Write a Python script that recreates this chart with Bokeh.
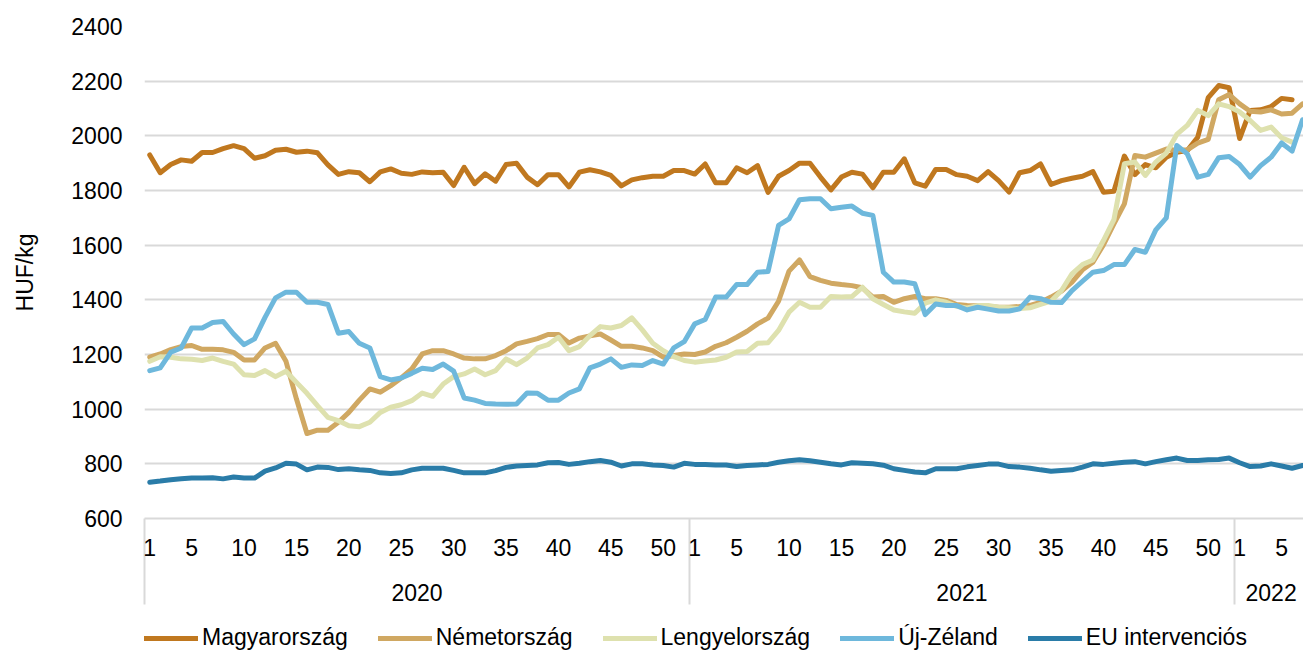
import numpy as np
from bokeh.plotting import figure
from bokeh.layouts import column
from bokeh.models import Range1d, FixedTicker, LinearAxis, Legend, LegendItem
from bokeh.embed import file_html
from bokeh.resources import INLINE

# ---------------- data ----------------
years = ["2020", "2021", "2022"]
weeks_per_year = [52, 52, 7]
week_tick_labels = [1, 5, 10, 15, 20, 25, 30, 35, 40, 45, 50]
y_ticks = [600, 800, 1000, 1200, 1400, 1600, 1800, 2000, 2200, 2400]

series_names = ["Magyarország", "Németország", "Lengyelország", "Új-Zéland", "EU intervenciós"]
series_colors = ["#C0781F", "#D0A862", "#DEE1AE", "#6EB8DC", "#2A7CA8"]

magyarorszag = [
    1930, 1865, 1895, 1912, 1907, 1939, 1939, 1953, 1964, 1953,
    1918, 1927, 1947, 1951, 1940, 1944, 1938, 1894, 1859, 1869,
    1865, 1832, 1868, 1879, 1863, 1859, 1868, 1865, 1867, 1818,
    1885, 1825, 1861, 1834, 1895, 1900, 1849, 1821, 1858, 1858,
    1813, 1867, 1876, 1868, 1855, 1817, 1839, 1847, 1852, 1852,
    1873, 1873,
    1860, 1897, 1828, 1828, 1883, 1865, 1891, 1793, 1852, 1873,
    1900, 1900, 1849, 1802, 1849, 1867, 1860, 1810, 1867, 1867,
    1916, 1828, 1816, 1877, 1877, 1858, 1852, 1836, 1869, 1836,
    1794, 1865, 1873, 1897, 1822, 1836, 1845, 1852, 1869, 1794,
    1797, 1926, 1858, 1895, 1883, 1922, 1940, 1946, 1995, 2140,
    2184, 2176,
    1990, 2093, 2095, 2107, 2137, 2132,
]

nemetorszag = [
    1190, 1202, 1218, 1229, 1233, 1219, 1219, 1217, 1208, 1180,
    1180, 1224, 1241, 1175, 1037, 911, 923, 923, 952, 988,
    1033, 1074, 1062, 1086, 1114, 1147,
    1202, 1214, 1214, 1202, 1187, 1184, 1184, 1196, 1214, 1239,
    1248, 1258, 1273, 1273, 1242, 1260, 1268, 1275, 1253, 1230,
    1230, 1224, 1214, 1190, 1196, 1202,
    1200, 1209, 1230, 1243, 1263, 1285, 1312, 1333, 1395, 1505,
    1546, 1485, 1471, 1461, 1456, 1452, 1444, 1410, 1412, 1391,
    1404, 1412, 1404, 1404, 1398, 1383, 1379,
    1378, 1376, 1373, 1373, 1376,
    1380, 1391, 1410, 1432, 1465, 1510, 1538, 1601, 1678, 1751,
    1928, 1922, 1937, 1952, 1946, 1949, 1973, 1987, 2132, 2151,
    2117, 2090, 2087, 2095, 2080, 2083, 2117,
]

lengyelorszag = [
    1175, 1192, 1190, 1184, 1183, 1178, 1187, 1175, 1165, 1126,
    1123, 1141, 1119, 1139, 1098, 1058, 1013, 970, 958, 939,
    936, 952, 988, 1007, 1016, 1031,
    1059, 1047, 1092, 1119, 1129, 1147, 1126, 1141, 1184, 1163,
    1187, 1224, 1236, 1263, 1214, 1229, 1269, 1302, 1297, 1306,
    1334, 1290, 1241, 1214, 1192, 1178,
    1172, 1176, 1180, 1190, 1209, 1211, 1241, 1243, 1288, 1355,
    1391, 1373, 1373, 1412, 1410, 1412, 1446, 1404, 1383, 1363,
    1356, 1351, 1388, 1400, 1391, 1376, 1370,
    1379, 1379, 1373, 1371, 1368,
    1371, 1383, 1395, 1434, 1495, 1529, 1546, 1617, 1693, 1898,
    1904, 1855, 1904, 1937, 2005, 2038, 2093, 2074, 2117, 2107,
    2087, 2056, 2020, 2032, 1993, 1977,
]

uj_zeland = [
    1141, 1151, 1208, 1224, 1297, 1297, 1317, 1321, 1275, 1236,
    1257, 1336, 1407, 1428, 1428, 1391, 1391, 1383, 1278, 1284,
    1241, 1224, 1119, 1107, 1114, 1131,
    1150, 1145, 1165, 1139, 1041, 1033, 1021, 1019, 1018, 1019,
    1059, 1058, 1033, 1033, 1059, 1074, 1151, 1165, 1184, 1153,
    1162, 1160, 1178, 1165, 1224, 1247,
    1312, 1328, 1410, 1410, 1456, 1456, 1501, 1504, 1672, 1696,
    1766, 1770, 1770, 1733, 1739, 1743, 1717, 1709, 1501, 1465,
    1465, 1459, 1346, 1385, 1379, 1379, 1363,
    1373, 1366, 1359, 1359, 1367,
    1410, 1404, 1391, 1390, 1434, 1468, 1501, 1507, 1529, 1529,
    1584, 1574, 1656, 1700, 1965, 1934, 1849, 1859, 1920, 1924,
    1895, 1849, 1891, 1922, 1974, 1944, 2059,
]

eu_intervencios = [
    733, 737, 742, 745, 748, 748, 749, 745, 752, 748,
    748, 773, 785, 802, 799, 778, 788, 787, 779, 782,
    778, 776, 767, 765, 767, 778, 784, 784, 784,
    776, 767, 767, 767, 775, 787, 792, 794, 796, 804,
    805, 798, 802, 808, 812, 806, 792, 800, 800, 796,
    794, 788, 802, 798, 798, 796, 796, 790, 794, 796,
    798, 806, 811, 815, 811, 806, 800, 796, 804, 802,
    800,
    795, 782, 776, 770, 767, 782, 782, 782, 789, 794,
    799, 799, 790, 788, 784, 778, 773, 776, 778, 788,
    800, 798, 802, 806, 808, 800, 808, 815, 821, 812,
    812, 815, 816, 821, 804, 790, 792, 800, 792, 784,
    794,
]

all_series = [magyarorszag, nemetorszag, lengyelorszag, uj_zeland, eu_intervencios]

# ---------------- derived positions (category centres) ----------------
year_starts = np.concatenate([[0], np.cumsum(weeks_per_year)[:-1]])
year_bounds = [float(s) for s in year_starts]
year_centers = [float(s + n / 2.0) for s, n in zip(year_starts, weeks_per_year)]

week_ticks = []
week_overrides = {}
for s, n in zip(year_starts, weeks_per_year):
    for w in week_tick_labels:
        if w <= n:
            t = float(s + w - 0.5)
            week_ticks.append(t)
            week_overrides[t] = str(w)

FONT = "Liberation Sans"
GRID = "#D9D9D9"
LEFT = 144
WIDTH = 1303
MAIN_H = 621
LEGEND_H = 30
BOTTOM = MAIN_H - 518
PX_PER_WEEK = 10.48

p = figure(
    width=WIDTH, height=MAIN_H,
    min_border_left=LEFT, min_border_top=26, min_border_right=0, min_border_bottom=BOTTOM,
    x_range=Range1d(-0.001, (WIDTH - LEFT) / PX_PER_WEEK), y_range=Range1d(600, 2400),
    x_axis_location=None,
    output_backend="svg", toolbar_location=None, title=None,
)
p.outline_line_color = None
p.background_fill_color = "white"
p.border_fill_color = "white"
for g in p.xgrid:
    g.grid_line_color = None
    g.visible = False

# y axis
yax = p.yaxis[0]
yax.ticker = FixedTicker(ticks=y_ticks)
yax.axis_line_color = None
yax.major_tick_line_color = None
yax.minor_tick_line_color = None
yax.major_tick_out = 0
yax.major_label_standoff = 22
yax.major_label_text_font = FONT
yax.major_label_text_font_size = "23px"
yax.major_label_text_color = "#000000"
yax.axis_label = "HUF/kg"
yax.axis_label_text_font = FONT
yax.axis_label_text_font_size = "23px"
yax.axis_label_text_font_style = "normal"
yax.axis_label_text_color = "#000000"
yax.axis_label_standoff = 30

p.ygrid[0].ticker = FixedTicker(ticks=y_ticks)
p.ygrid[0].grid_line_color = GRID
p.ygrid[0].grid_line_width = 2

# lines
for vals, name, col in zip(all_series, series_names, series_colors):
    xs = np.arange(len(vals)) + 0.5
    p.line(xs, vals, line_color=col, line_width=5, line_join="round", line_cap="round")

# week axis (minor ticks = year separators reaching below)
SEP_LEN = 86
ax1 = LinearAxis(ticker=FixedTicker(ticks=week_ticks, minor_ticks=year_bounds))
ax1.major_label_overrides = week_overrides
ax1.axis_line_color = GRID
ax1.axis_line_width = 2
ax1.major_tick_line_color = None
ax1.major_tick_out = 0
ax1.major_tick_in = 0
ax1.minor_tick_line_color = GRID
ax1.minor_tick_line_width = 2
ax1.minor_tick_out = SEP_LEN
ax1.minor_tick_in = 0
ax1.major_label_standoff = 20 - SEP_LEN
ax1.major_label_text_font = FONT
ax1.major_label_text_font_size = "23px"
ax1.major_label_text_color = "#000000"
p.add_layout(ax1, "below")

# year axis
ax2 = LinearAxis(ticker=FixedTicker(ticks=year_centers, minor_ticks=[]))
ax2.major_label_overrides = {c: y for c, y in zip(year_centers, years)}
ax2.axis_line_color = None
ax2.major_tick_line_color = None
ax2.minor_tick_line_color = None
ax2.major_tick_out = 0
ax2.major_tick_in = 0
ax2.major_label_standoff = 25
ax2.major_label_text_font = FONT
ax2.major_label_text_font_size = "23px"
ax2.major_label_text_color = "#000000"
p.add_layout(ax2, "below")

# ---------------- legend strip (separate figure) ----------------
lp = figure(
    width=WIDTH, height=LEGEND_H,
    min_border_left=0, min_border_right=0, min_border_top=0, min_border_bottom=0,
    x_range=Range1d(0, 1), y_range=Range1d(0, 1),
    x_axis_location=None, y_axis_location=None,
    output_backend="svg", toolbar_location=None, title=None,
)
lp.outline_line_color = None
lp.background_fill_color = "white"
lp.border_fill_color = "white"
for g in list(lp.xgrid) + list(lp.ygrid):
    g.visible = False

# legend proxies: same series, lying outside this strip's ranges (so not drawn)
proxies = []
for vals, name, col in zip(all_series, series_names, series_colors):
    xs = np.arange(len(vals)) + 0.5
    proxies.append(lp.line(xs, vals, line_color=col, line_width=5, line_cap="round"))

legend = Legend(
    items=[LegendItem(label=n, renderers=[r]) for n, r in zip(series_names, proxies)],
    orientation="horizontal", location=(0, 0),
    glyph_width=54, glyph_height=26, label_height=26, label_standoff=4, spacing=30,
    padding=0, margin=0, border_line_color=None, background_fill_alpha=0,
    label_text_font=FONT, label_text_font_size="23px", label_text_color="#000000",
)
lp.add_layout(legend)

layout = column(p, lp, spacing=0)
open("out.html", "w").write(file_html(layout, INLINE))
